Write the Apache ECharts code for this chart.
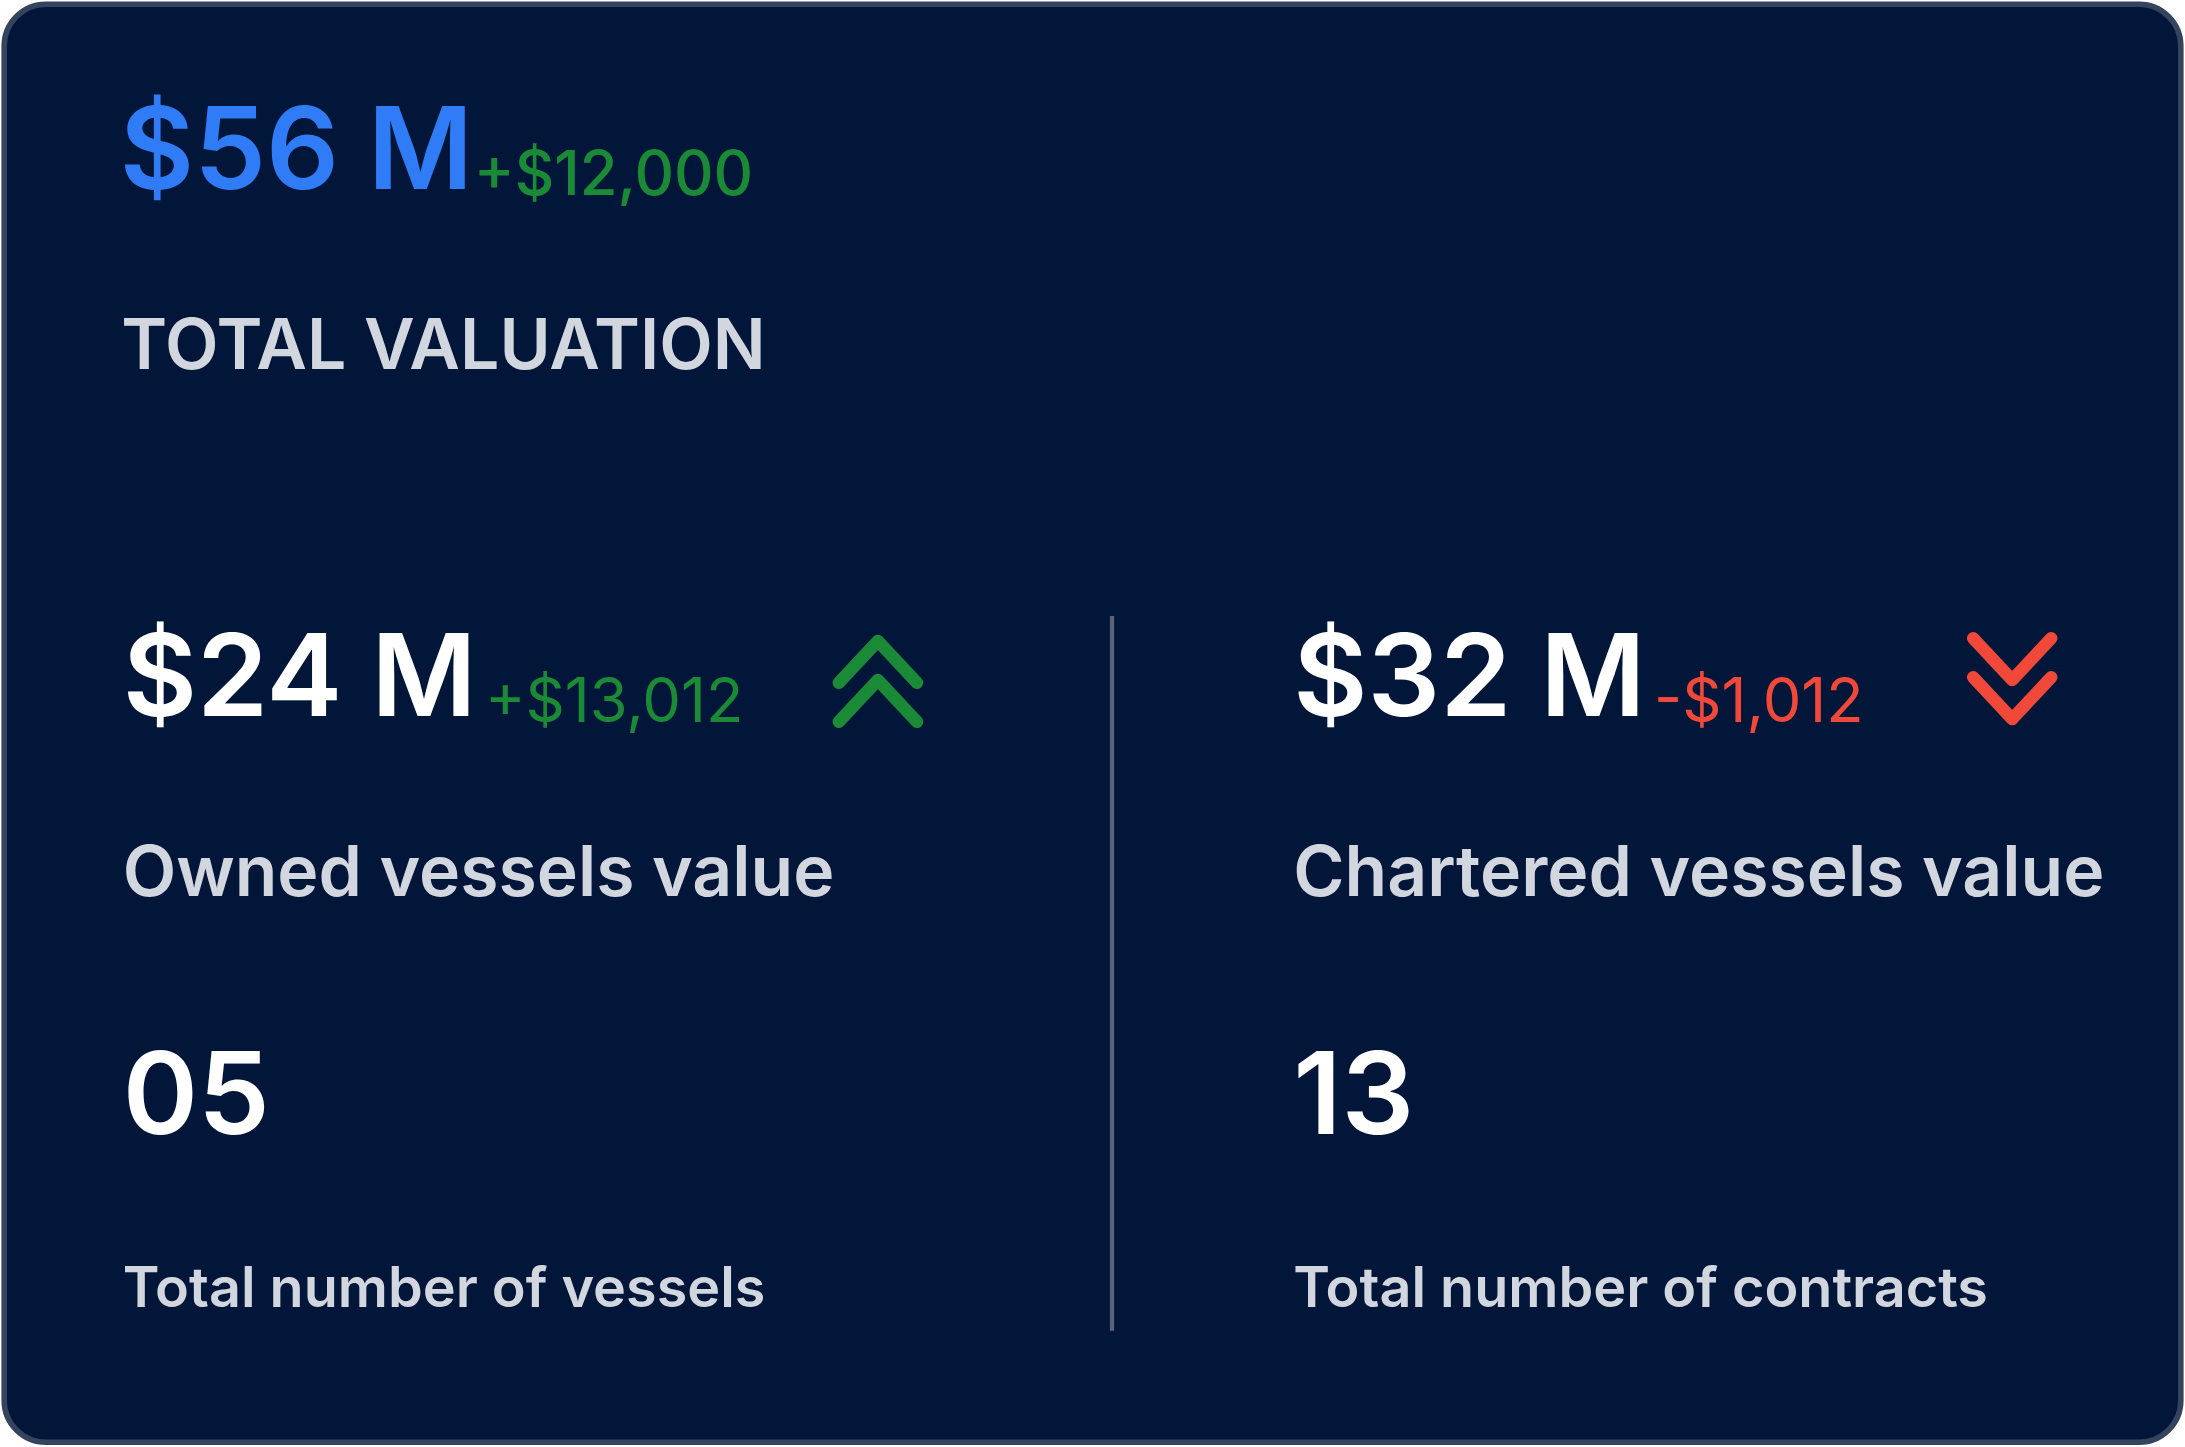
<!DOCTYPE html>
<html><head><meta charset="utf-8">
<script src="https://cdn.jsdelivr.net/npm/echarts@6/dist/echarts.min.js"></script>
<style>html,body{margin:0;padding:0;background:#fff}#c{width:2185px;height:1447px}</style>
</head><body><div id="c"></div>
<script>
const headline = {value: "$56 M", delta: "+$12,000", label: "TOTAL VALUATION"};
const panelValues = ["$24 M", "$32 M"];
const panelDeltas = ["+$13,012", "-$1,012"];
const panelTrends = ["up", "down"];
const panelLabels = ["Owned vessels value", "Chartered vessels value"];
const panelCounts = ["05", "13"];
const panelCountLabels = ["Total number of vessels", "Total number of contracts"];

const S = 2185 / 1568;
const F = "Inter, 'Noto Sans', sans-serif";
const GREEN = "#1b8a36", RED = "#f0493a", BLUE = "#2f7cf6", GREY = "#d2d6de";
const els = [];
function txt(x, yc, t, size, color, weight) {
  els.push({type: "text", x: x * S, y: yc * S, style: {text: t, fill: color, font: `${weight} ${size * S}px ${F}`, verticalAlign: "middle", align: "left"}});
}
els.push({type: "rect", shape: {x: 3 * S, y: 3 * S, width: 1562 * S, height: 1032 * S, r: 30 * S},
  style: {fill: "#011638", stroke: "#34445e", lineWidth: 4 * S}});
txt(86, 111, headline.value, 82, BLUE, 600);
txt(340, 127, headline.delta, 44, GREEN, 500);
txt(87, 250, headline.label, 50, GREY, 600);
els.push({type: "line", shape: {x1: 798 * S, y1: 442 * S, x2: 798 * S, y2: 955 * S}, style: {stroke: "#5a6579", lineWidth: 3 * S}});
const xs = [88, 928], deltaX = [348, 1187], chevX = [630, 1444];
for (let i = 0; i < 2; i++) {
  const c = panelTrends[i] === "up" ? GREEN : RED;
  txt(xs[i], 489, panelValues[i], 82, "#ffffff", 600);
  txt(deltaX[i], 505, panelDeltas[i], 44, c, 400);
  txt(xs[i], 628, panelLabels[i], 50, GREY, 600);
  txt(xs[i], 789, panelCounts[i], 82, "#ffffff", 600);
  txt(xs[i], 926, panelCountLabels[i], 40, GREY, 600);
  const cx = chevX[i];
  const offs = panelTrends[i] === "up" ? [[490, 460], [518, 488]] : [[458, 488], [486, 516]];
  offs.forEach(([yo, yt]) => {
    els.push({type: "polyline", shape: {points: [[(cx - 28) * S, yo * S], [cx * S, yt * S], [(cx + 28) * S, yo * S]]},
      style: {stroke: c, lineWidth: 9 * S, lineCap: "round", lineJoin: "round", fill: null}});
  });
}
const chart = echarts.init(document.getElementById("c"));
chart.setOption({backgroundColor: "#ffffff", graphic: {elements: els}});
</script></body></html>
